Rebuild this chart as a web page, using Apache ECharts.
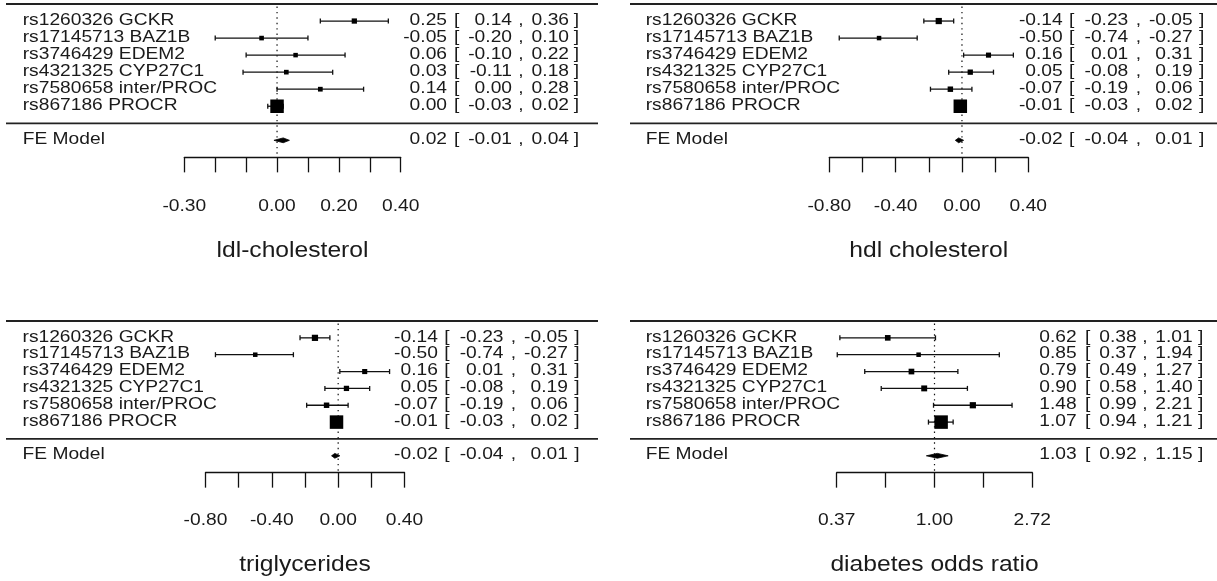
<!DOCTYPE html>
<html>
<head>
<meta charset="utf-8">
<script src="https://cdn.jsdelivr.net/npm/echarts@6/dist/echarts.min.js"></script>
<style>
html, body { margin: 0; padding: 0; background: #fff; }
#chart { width: 1217px; height: 581px; }
</style>
</head>
<body>
<div id="chart"></div>
<script>
// study labels, same order in all four panels (top to bottom)
var studies = ['rs1260326 GCKR', 'rs17145713 BAZ1B', 'rs3746429 EDEM2',
               'rs4321325 CYP27C1', 'rs7580658 inter/PROC', 'rs867186 PROCR'];

// ldl-cholesterol
var ldlEst = [0.25, -0.05, 0.06, 0.03, 0.14, 0.00];
var ldlLo  = [0.14, -0.20, -0.10, -0.11, 0.00, -0.03];
var ldlHi  = [0.36, 0.10, 0.22, 0.18, 0.28, 0.02];
var ldlFE  = [0.02, -0.01, 0.04];          // est, lower, upper

// hdl cholesterol
var hdlEst = [-0.14, -0.50, 0.16, 0.05, -0.07, -0.01];
var hdlLo  = [-0.23, -0.74, 0.01, -0.08, -0.19, -0.03];
var hdlHi  = [-0.05, -0.27, 0.31, 0.19, 0.06, 0.02];
var hdlFE  = [-0.02, -0.04, 0.01];

// triglycerides
var tgEst = [-0.14, -0.50, 0.16, 0.05, -0.07, -0.01];
var tgLo  = [-0.23, -0.74, 0.01, -0.08, -0.19, -0.03];
var tgHi  = [-0.05, -0.27, 0.31, 0.19, 0.06, 0.02];
var tgFE  = [-0.02, -0.04, 0.01];

// diabetes odds ratio (plotted on log scale)
var dmEst = [0.62, 0.85, 0.79, 0.90, 1.48, 1.07];
var dmLo  = [0.38, 0.37, 0.49, 0.58, 0.99, 0.94];
var dmHi  = [1.01, 1.94, 1.27, 1.40, 2.21, 1.21];
var dmFE  = [1.03, 0.92, 1.15];

// axis ticks and the labels R kept (others dropped for overlap)
var ldlTicks = [-0.3, -0.2, -0.1, 0, 0.1, 0.2, 0.3, 0.4];
var ldlTickText = ['-0.30', '', '', '0.00', '', '0.20', '', '0.40'];
var hdlTicks = [-0.8, -0.6, -0.4, -0.2, 0, 0.2, 0.4];
var hdlTickText = ['-0.80', '', '-0.40', '', '0.00', '', '0.40'];
var tgTicks = [-0.8, -0.6, -0.4, -0.2, 0, 0.2, 0.4];
var tgTickText = ['-0.80', '', '-0.40', '', '0.00', '', '0.40'];
var dmTicks = [-1, -0.5, 0, 0.5, 1];      // log(OR)
var dmTickText = ['0.37', '', '1.00', '', '2.72'];

var FONT = '"Liberation Sans", Arial, sans-serif';
var SX = 1.13;         // the picture is stretched a bit horizontally
var INK = '#1a1a1a';

// rows: studies 6..1, separator 0, FE model -1, axis -2, top rule 7
var panels = [
    { name: 'ldl-cholesterol', est: ldlEst, lo: ldlLo, hi: ldlHi, fe: ldlFE,
      ticks: ldlTicks, tickText: ldlTickText, log: false,
      box: [6, 598], axisPx: [184.3, 400.7], top: 4, rowH: 17.04,
      labelX: 22.7, annRight: 579, cols: [-132, -125, -67, -58, -10] },
    { name: 'hdl cholesterol', est: hdlEst, lo: hdlLo, hi: hdlHi, fe: hdlFE,
      ticks: hdlTicks, tickText: hdlTickText, log: false,
      box: [630, 1217], axisPx: [829.3, 1028.3], top: 4, rowH: 17.04,
      labelX: 645.7, annRight: 1204.3, cols: [-141.6, -135.3, -76, -66, -11.6] },
    { name: 'triglycerides', est: tgEst, lo: tgLo, hi: tgHi, fe: tgFE,
      ticks: tgTicks, tickText: tgTickText, log: false,
      box: [6, 598], axisPx: [205.5, 404.5], top: 321, rowH: 16.85,
      labelX: 22.5, annRight: 579.5, cols: [-141.6, -135.3, -76, -66, -11.6] },
    { name: 'diabetes odds ratio', est: dmEst, lo: dmLo, hi: dmHi, fe: dmFE,
      ticks: dmTicks, tickText: dmTickText, log: true,
      box: [630, 1217], axisPx: [836.7, 1032.3], top: 321, rowH: 16.85,
      labelX: 645.7, annRight: 1203.3, cols: [-126.6, -118.3, -66.6, -58.3, -10.6] }
];

// metafor style point sizes: 1/se scaled to 0.5 .. 1.5
function pointSizes(lo, hi) {
    var w = lo.map(function (l, i) { return 1 / (hi[i] - l); });
    var wmin = Math.min.apply(null, w), wmax = Math.max.apply(null, w);
    return w.map(function (v) { return 0.5 + (v - wmin) / (wmax - wmin); });
}

function studyItem(params, api) {
    var y = api.value(3);
    var a = api.coord([api.value(0), y]);
    var b = api.coord([api.value(1), y]);
    var c = api.coord([api.value(2), y]);
    var s = 9 * api.value(4);
    var ls = { stroke: '#111', lineWidth: 1.3 };
    return {
        type: 'group',
        children: [
            { type: 'line', shape: { x1: a[0], y1: a[1], x2: b[0], y2: b[1] }, style: ls },
            { type: 'line', shape: { x1: a[0], y1: a[1] - 2.5, x2: a[0], y2: a[1] + 2.5 }, style: ls },
            { type: 'line', shape: { x1: b[0], y1: b[1] - 2.5, x2: b[0], y2: b[1] + 2.5 }, style: ls },
            { type: 'rect', shape: { x: c[0] - s / 2, y: c[1] - s / 2, width: s, height: s },
              style: { fill: '#000' } }
        ]
    };
}

function diamondItem(params, api) {
    var y = api.value(3);
    var a = api.coord([api.value(0), y]);
    var b = api.coord([api.value(1), y]);
    var c = api.coord([api.value(2), y]);
    return {
        type: 'polygon',
        shape: { points: [[a[0], a[1]], [c[0], c[1] - 2.4], [b[0], b[1]], [c[0], c[1] + 2.4]] },
        style: { fill: '#000', stroke: '#000', lineWidth: 0.8 }
    };
}

function refItem(params, api) {
    var a = api.coord([api.value(0), api.value(1)]);
    var b = api.coord([api.value(0), api.value(2)]);
    return {
        type: 'line',
        shape: { x1: a[0], y1: a[1], x2: b[0], y2: b[1] },
        style: { stroke: '#111', lineWidth: 1.2, lineDash: [1.4, 4] }
    };
}

var grids = [], xAxes = [], yAxes = [], series = [];
panels.forEach(function (p, i) {
    var tr = p.log ? Math.log : function (v) { return v; };
    var lo = p.lo.map(tr), hi = p.hi.map(tr), est = p.est.map(tr);
    var size = pointSizes(lo, hi);
    var t0 = p.ticks[0], t1 = p.ticks[p.ticks.length - 1];

    grids.push({ left: p.axisPx[0], width: p.axisPx[1] - p.axisPx[0],
                 top: p.top, height: 9 * p.rowH });
    xAxes.push({
        type: 'value', gridIndex: i, position: 'bottom',
        min: t0, max: t1, interval: +(p.ticks[1] - p.ticks[0]).toFixed(4),
        axisLine: { show: true, onZero: false, lineStyle: { color: '#111', width: 1.3 } },
        axisTick: { show: true, length: 15, lineStyle: { color: '#111', width: 1.3 } },
        axisLabel: { show: false },
        splitLine: { show: false }
    });
    yAxes.push({ type: 'value', gridIndex: i, min: -2, max: 7, show: false });

    series.push({
        type: 'custom', xAxisIndex: i, yAxisIndex: i, clip: false, silent: true,
        renderItem: refItem, data: [[0, 6.85, -2]]
    });
    series.push({
        type: 'custom', xAxisIndex: i, yAxisIndex: i, clip: false, silent: true,
        renderItem: studyItem,
        data: studies.map(function (s, k) { return [lo[k], hi[k], est[k], 6 - k, size[k]]; })
    });
    series.push({
        type: 'custom', xAxisIndex: i, yAxisIndex: i, clip: false, silent: true,
        renderItem: diamondItem,
        data: [[tr(p.fe[1]), tr(p.fe[2]), tr(p.fe[0]), -1]]
    });
});

var chart = echarts.init(document.getElementById('chart'));
chart.setOption({
    animation: false,
    backgroundColor: '#fff',
    grid: grids,
    xAxis: xAxes,
    yAxis: yAxes,
    series: series
});

function txt(x, y, s, size, align, scale) {
    return {
        type: 'text', x: x, y: y, scaleX: scale || SX, silent: true,
        style: {
            text: s, font: size + 'px ' + FONT, fill: INK,
            align: align, textAlign: align,
            verticalAlign: 'middle', textVerticalAlign: 'middle'
        }
    };
}

var graphics = [];
panels.forEach(function (p, i) {
    function py(row) { return chart.convertToPixel({ gridIndex: i }, [p.ticks[0], row])[1]; }
    function px(v) { return chart.convertToPixel({ gridIndex: i }, [v, 0])[0]; }

    // top rule and separator
    [7, 0].forEach(function (r) {
        graphics.push({
            type: 'line', silent: true,
            shape: { x1: p.box[0], y1: py(r), x2: p.box[1], y2: py(r) },
            style: { stroke: '#222', lineWidth: 1.8 }
        });
    });

    var rows = studies.map(function (s, k) {
        return { label: s, r: 6 - k, v: [p.est[k], p.lo[k], p.hi[k]] };
    });
    rows.push({ label: 'FE Model', r: -1, v: p.fe });

    rows.forEach(function (row) {
        var y = py(row.r) - 1;
        var R = p.annRight, c = p.cols;
        graphics.push(txt(p.labelX, y, row.label, 17, 'left'));
        graphics.push(txt(R + c[0], y, row.v[0].toFixed(2), 17, 'right'));
        graphics.push(txt(R + c[1], y, '[', 17, 'left'));
        graphics.push(txt(R + c[2], y, row.v[1].toFixed(2), 17, 'right'));
        graphics.push(txt(R + c[3], y, ',', 17, 'center'));
        graphics.push(txt(R + c[4], y, row.v[2].toFixed(2), 17, 'right'));
        graphics.push(txt(R, y, ']', 17, 'right'));
    });

    // tick labels and axis title
    p.ticks.forEach(function (t, k) {
        if (p.tickText[k]) {
            graphics.push(txt(px(t), py(-4.85), p.tickText[k], 17, 'center'));
        }
    });
    var mid = (px(p.ticks[0]) + px(p.ticks[p.ticks.length - 1])) / 2;
    graphics.push(txt(mid, py(-7.48), p.name, 22, 'center', 1.12));
});

chart.setOption({ graphic: graphics });
</script>
</body>
</html>
